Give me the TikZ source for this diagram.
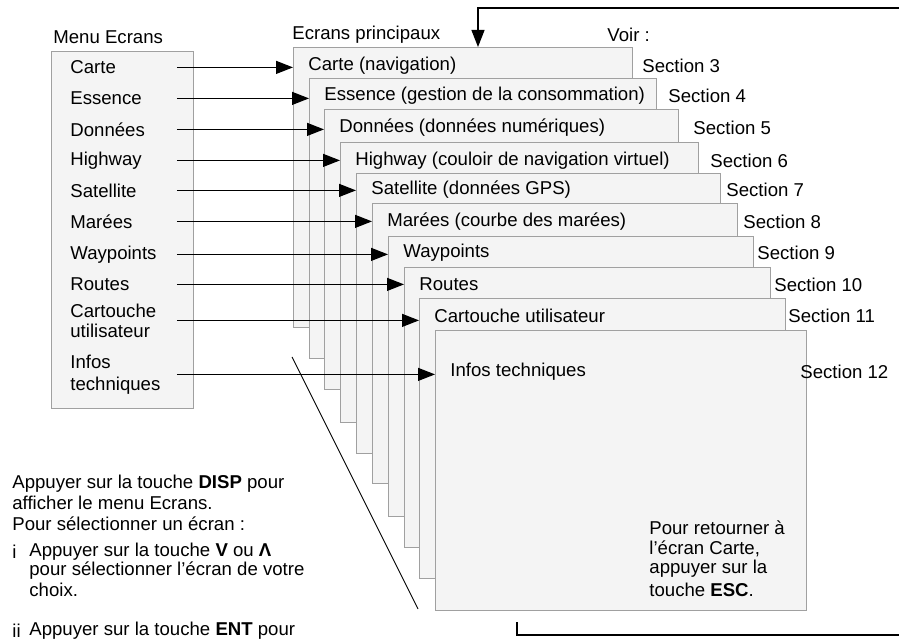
\documentclass[tikz,border=0pt]{standalone}
\usepackage{fontspec}
\setmainfont{Liberation Sans}
\usetikzlibrary{arrows.meta,positioning}
\definecolor{scrfill}{RGB}{244,244,244}
\definecolor{scrline}{RGB}{160,160,160}
\tikzset{
  txt/.style     = {inner sep=0pt, font=\fontsize{9.3}{10}\selectfont, align=left,
                    yshift=-1.2pt},
  screen/.style  = {rectangle, draw=scrline, fill=scrfill, line width=0.65pt,
                    inner sep=0pt, anchor=north west},
  arr/.style     = {-{Triangle[length=8.5pt,width=6.5pt]}, line width=0.6pt},
  link/.style    = {line width=0.6pt},
}
\begin{document}
\begin{tikzpicture}[x=0.5pt, y=-0.5pt]
\useasboundingbox (0,0) rectangle (899,640);

%% -- Menu Ecrans ------------------------------------------
\node[txt, anchor=west] (menutitle) at (53,35) {Menu Ecrans};
\node[screen, minimum width=71pt, minimum height=178.5pt] (menu) at (51,51) {};
\foreach \n/\y/\lbl in {1/65/Carte, 2/96/Essence, 3/127/Données,
    4/158/Highway, 5/188/Satellite, 6/219/Marées, 7/252/Waypoints,
    8/282/Routes, 9/318/{Cartouche\\utilisateur}, 10/372/{Infos\\[1pt]techniques}}
  \node[txt, anchor=west, text width=53pt] (itm\n) at (70,\y) {\lbl};

%% -- Ecrans principaux ------------------------------------
\node[txt, anchor=west] (scrtitle) at (292,32) {Ecrans principaux};
\node[txt, anchor=west] (voir)     at (607,32) {Voir :};
\foreach \n/\l/\t/\r/\ty/\sx/\sec/\ttl in {
    1/293/47/632/63/642/3/Carte (navigation),
    2/309/78/656/93/668/4/Essence (gestion de la consommation),
    3/324/109/678/125/693/5/Données (données numériques),
    4/340/142/698/158/710/6/Highway (couloir de navigation virtuel),
    5/356/173/720/187/726/7/Satellite (données GPS),
    6/372/203/737/219/743/8/Marées (courbe des marées),
    7/388/236/753/250/757/9/Waypoints,
    8/404/267/770/282/774/10/Routes,
    9/419/298/785/313/788/11/Cartouche utilisateur,
    10/435/330/806/369/800/12/Infos techniques}
{
  \node[screen, minimum width={(\r-\l)*0.5pt}, minimum height=140pt] (scr\n) at (\l,\t) {};
  \node[txt, anchor=west] (ttl\n) at (\l+15,\ty) {\ttl};
  \node[txt, anchor=west] (sec\n) at (\sx,\ty) {Section \sec};
}

%% -- Arrows: menu -> screens ------------------------------
\foreach \n in {1,...,10}
  \draw[arr] (itm\n.east) -- (itm\n.east -| scr\n.west);

%% -- Return to Carte --------------------------------------
\node[txt, anchor=west] (esc1) at (649,525) {Pour retourner à};
\node[txt, anchor=west] (esc2) at (649,546) {l’écran Carte,};
\node[txt, anchor=west] (esc3) at (649,566) {appuyer sur la};
\node[txt, anchor=west] (esc4) at (649,587) {touche \textbf{ESC}.};

\coordinate (fbR)  at (899,8);
\coordinate (fbL)  at (478,8);
\coordinate (fbB)  at (517,622);
\coordinate (fbBR) at (899,635);
\draw[arr]  (fbR) -- (fbL) -- (fbL |- scr1.north);
\draw[link] (fbB) |- (fbBR);

%% -- Stack outline ----------------------------------------
\coordinate (dgA) at (292,357);
\coordinate (dgB) at (418,609);
\draw[line width=0.45pt] (dgA) -- (dgB);

%% -- Instructions -----------------------------------------
\node[txt, anchor=west] (hint1) at (12,481) {Appuyer sur la touche \textbf{DISP} pour};
\node[txt, anchor=west] (hint2) at (12,500) {afficher le menu Ecrans.};
\node[txt, anchor=west] (hint3) at (12,521) {Pour sélectionner un écran :};
\node[txt, anchor=west] (stp1)  at (12,549) {i};
\node[txt, anchor=west] (stp1a) at (29,549) {Appuyer sur la touche \textbf{V} ou \textbf{Λ}};
\node[txt, anchor=west] (stp1b) at (29,568) {pour sélectionner l’écran de votre};
\node[txt, anchor=west] (stp1c) at (29,587) {choix.};
\node[txt, anchor=west] (stp2)  at (12,628) {ii};
\node[txt, anchor=west] (stp2a) at (29,628) {Appuyer sur la touche \textbf{ENT} pour};

\end{tikzpicture}
\end{document}
